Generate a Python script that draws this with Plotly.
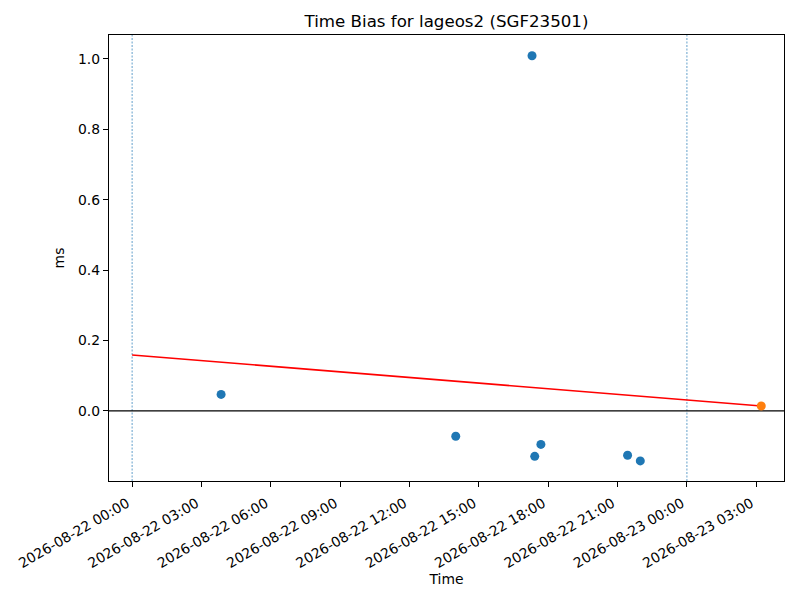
import plotly.graph_objects as go

# Data
obs_times = [
    "2026-08-22 03:51", "2026-08-22 14:00", "2026-08-22 17:18",
    "2026-08-22 17:25", "2026-08-22 17:41", "2026-08-22 21:26",
    "2026-08-22 21:59",
]
obs_bias_ms = [0.047, -0.072, 1.009, -0.129, -0.095, -0.126, -0.142]

pred_time = ["2026-08-23 03:13"]
pred_bias_ms = [0.014]

fit_times = ["2026-08-22 00:00", "2026-08-23 03:13"]
fit_bias_ms = [0.159, 0.014]

day_boundaries = ["2026-08-22 00:00", "2026-08-23 00:00"]

x_range = ["2026-08-21 23:00", "2026-08-23 04:12"]
y_range = [-0.199, 1.068]

font_family = "DejaVu Sans, Arial, sans-serif"
tick_size = 13.9

fig = go.Figure()

for d in day_boundaries:
    fig.add_vline(x=d, line=dict(color="#1f77b4", width=0.7, dash="2px,1.5px"), layer="below")
fig.add_hline(y=0, line=dict(color="black", width=1.3), layer="below")

fig.add_trace(go.Scatter(
    x=fit_times, y=fit_bias_ms, mode="lines",
    line=dict(color="red", width=1.6), showlegend=False,
))
fig.add_trace(go.Scatter(
    x=obs_times, y=obs_bias_ms, mode="markers",
    marker=dict(color="#1f77b4", size=9, line=dict(width=0)), showlegend=False,
))
fig.add_trace(go.Scatter(
    x=pred_time, y=pred_bias_ms, mode="markers",
    marker=dict(color="#ff7f0e", size=9, line=dict(width=0)), showlegend=False,
))

fig.update_layout(
    width=800, height=600,
    margin=dict(l=101, r=24, t=27, b=127),
    paper_bgcolor="white", plot_bgcolor="white",
    font=dict(family=font_family, color="black", size=tick_size),
    title=dict(
        text="Time Bias for lageos2 (SGF23501)",
        x=0.5, xref="paper", xanchor="center",
        y=1 - 13 / 600, yref="container", yanchor="middle",
        font=dict(size=16.67, family=font_family, color="black"),
    ),
    showlegend=False,
)

fig.update_xaxes(
    type="date", range=x_range, automargin=False,
    tick0="2026-08-22 00:00", dtick=3 * 3600 * 1000,
    tickformat="%Y-%m-%d %H:%M", tickangle=-30,
    tickfont=dict(size=tick_size),
    ticklabelshift=-5, ticklabelstandoff=3,
    showgrid=False, zeroline=False,
    showline=True, linecolor="black", linewidth=1.2, mirror=True,
    ticks="outside", ticklen=5, tickwidth=1, tickcolor="black",
    title=dict(text="Time", standoff=0, font=dict(size=tick_size)),
)
fig.update_yaxes(
    range=y_range, dtick=0.2, tick0=0, tickformat=".1f", automargin=False,
    tickfont=dict(size=tick_size),
    showgrid=False, zeroline=False,
    showline=True, linecolor="black", linewidth=1.2, mirror=True,
    ticks="outside", ticklen=5, tickwidth=1, tickcolor="black",
    title=dict(text="ms", standoff=10, font=dict(size=tick_size)),
)

fig.write_html("out.html")
